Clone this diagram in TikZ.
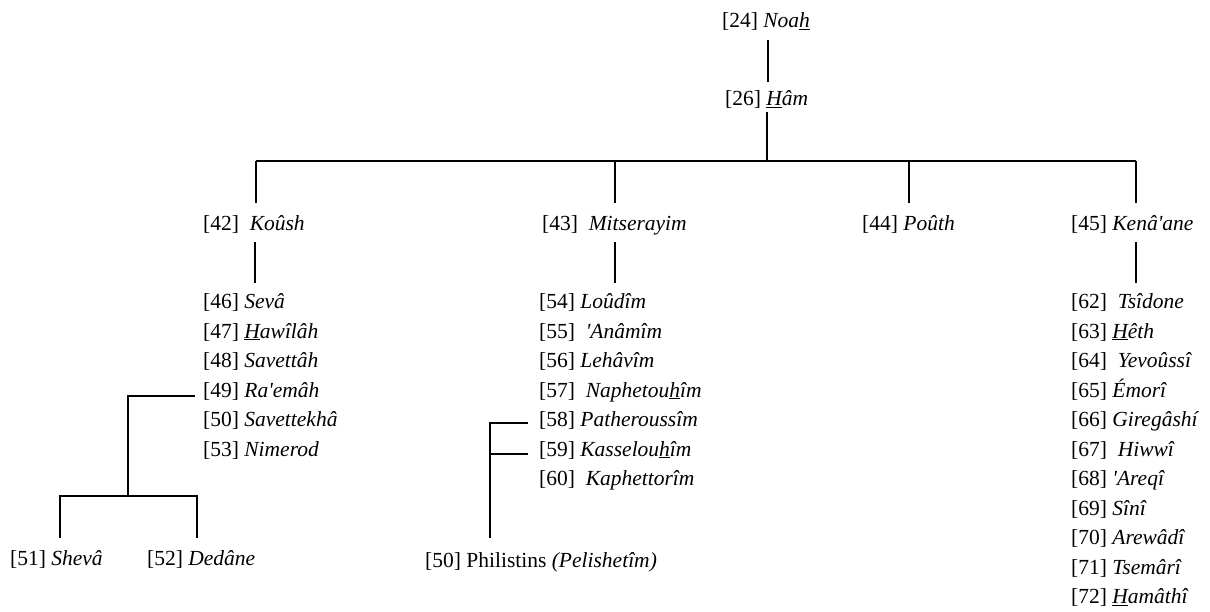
\documentclass[tikz,border=0pt]{standalone}
\usepackage{fontspec}
\setmainfont{Liberation Serif}
\newcommand{\q}{\textquotesingle}
\begin{document}
\begin{tikzpicture}[x=1pt,y=-1pt,
  lab/.style={anchor=base west,inner sep=0pt,font=\fontsize{21.5}{26}\selectfont},
  link/.style={line width=1.3pt}]
\useasboundingbox (0,0) rectangle (1210,612);
% top
\node[lab] (noah) at (722,28) {[24] \textit{Noa\underline{h}}};
\node[lab] (ham) at (725,106) {[26] \textit{\underline{H}âm}};
% second row
\node[lab] (koush) at (203,231) {[42]\ \ \textit{Koûsh}};
\node[lab] (mits) at (542,231) {[43]\ \ \textit{Mitserayim}};
\node[lab] (pouth) at (862,231) {[44] \textit{Poûth}};
\node[lab] (kena) at (1071,231) {[45] \textit{Kenâ\q ane}};
% Koush list
\node[lab] (k46) at (203,308.5) {[46] \textit{Sevâ}};
\node[lab] (k47) at (203,338.0) {[47] \textit{\underline{H}awîlâh}};
\node[lab] (k48) at (203,367.5) {[48] \textit{Savettâh}};
\node[lab] (k49) at (203,397.0) {[49] \textit{Ra\q emâh}};
\node[lab] (k50) at (203,426.5) {[50]\ \textit{Savettekhâ}};
\node[lab] (k53) at (203,456.0) {[53] \textit{Nimerod}};
\node[lab] (k51) at (10,565.5) {[51] \textit{Shevâ}};
\node[lab] (k52) at (147,565.5) {[52] \textit{Dedâne}};
% Mitserayim list
\node[lab] (m54) at (539,308.5) {[54] \textit{Loûdîm}};
\node[lab] (m55) at (539,338.0) {[55]\ \ \textit{\q Anâmîm}};
\node[lab] (m56) at (539,367.5) {[56] \textit{Lehâvîm}};
\node[lab] (m57) at (539,397.0) {[57]\ \ \textit{Naphetou\underline{h}îm}};
\node[lab] (m58) at (539,426.5) {[58] \textit{Patheroussîm}};
\node[lab] (m59) at (539,456.0) {[59] \textit{Kasselou\underline{h}îm}};
\node[lab] (m60) at (539,485.5) {[60]\ \ \textit{Kaphettorîm}};
\node[lab] (phil) at (425,567.5) {[50] Philistins \textit{(Pelishetîm)}};
% Kena'ane list
\node[lab] (c62) at (1071,308.5) {[62]\ \ \textit{Tsîdone}};
\node[lab] (c63) at (1071,338.0) {[63] \textit{\underline{H}êth}};
\node[lab] (c64) at (1071,367.5) {[64]\ \ \textit{Yevoûssî}};
\node[lab] (c65) at (1071,397.0) {[65] \textit{Émorî}};
\node[lab] (c66) at (1071,426.5) {[66] \textit{Giregâshí}};
\node[lab] (c67) at (1071,456.0) {[67]\ \ \textit{Hiwwî}};
\node[lab] (c68) at (1071,485.5) {[68] \textit{\q Areqî}};
\node[lab] (c69) at (1071,515.0) {[69] \textit{Sînî}};
\node[lab] (c70) at (1071,544.5) {[70] \textit{Arewâdî}};
\node[lab] (c71) at (1071,574.0) {[71] \textit{Tsemârî}};
\node[lab] (c72) at (1071,603.5) {[72] \textit{\underline{H}amâthî}};
% junction coordinates
\coordinate (noahB) at (768,40);
\coordinate (hamT) at (768,82);
\coordinate (hamB) at (767,112);
\coordinate (bus) at (767,161);
\coordinate (busL) at (256,161);
\coordinate (busR) at (1136,161);
\coordinate (koushT) at (256,203);
\coordinate (mitsT) at (615,203);
\coordinate (pouthT) at (909,203);
\coordinate (kenaT) at (1136,203);
\coordinate (koushB) at (255,242);
\coordinate (k46T) at (255,283);
\coordinate (mitsB) at (615,242);
\coordinate (m54T) at (615,283);
\coordinate (kenaB) at (1136,242);
\coordinate (c62T) at (1136,283);
\coordinate (raE) at (195,396);
\coordinate (raJ) at (128,496);
\coordinate (shevT) at (60,538);
\coordinate (dedT) at (197,538);
\coordinate (m58E) at (528,423);
\coordinate (m59E) at (528,454);
\coordinate (philT) at (490,538);
% connectors
\draw[link] (noahB) -- (hamT);
\draw[link] (hamB) -- (bus);
\draw[link] (busL) -- (busR);
\draw[link] (busL) -- (koushT);
\draw[link] (mitsT |- bus) -- (mitsT);
\draw[link] (pouthT |- bus) -- (pouthT);
\draw[link] (busR) -- (kenaT);
\draw[link] (koushB) -- (k46T);
\draw[link] (mitsB) -- (m54T);
\draw[link] (kenaB) -- (c62T);
\draw[link] (raE) -| (raJ);
\draw[link] (shevT) |- (raJ) -| (dedT);
\draw[link] (m58E) -| (philT);
\draw[link] (m59E) -- (m59E -| philT);
\end{tikzpicture}
\end{document}
